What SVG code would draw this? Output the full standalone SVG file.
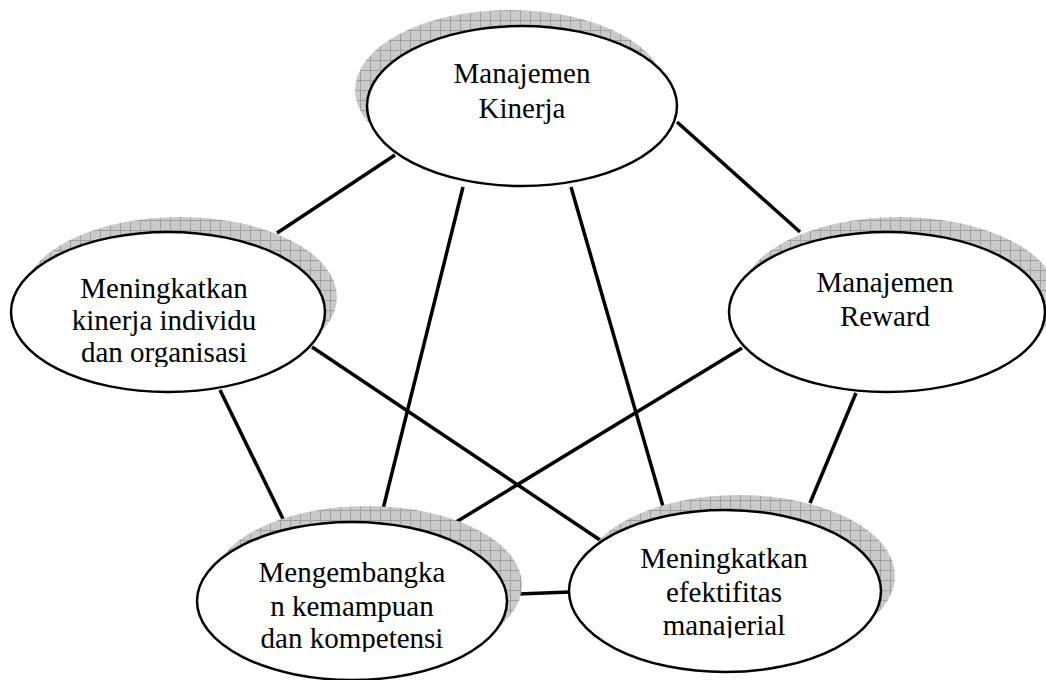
<svg xmlns="http://www.w3.org/2000/svg" width="1046" height="680" viewBox="0 0 1046 680">
<defs>
<pattern id="grid" width="10" height="10" patternUnits="userSpaceOnUse">
<rect width="10" height="10" fill="#cacaca"/>
<path d="M0 0.5H10M0.5 0V10" stroke="#a0a0a0" stroke-width="1" fill="none"/>
</pattern>
<clipPath id="clip-individu"><rect x="0" y="260" width="340" height="107"/></clipPath>
<clipPath id="clip-kompetensi"><rect x="190" y="545" width="330" height="107"/></clipPath>
<clipPath id="clip-manajerial"><rect x="560" y="530" width="330" height="108"/></clipPath>
</defs>
<style>
.shadow{fill:url(#grid);stroke:none}
.node{fill:#fff;stroke:#000;stroke-width:2.5}
text{font-family:'Liberation Serif','Times New Roman',Times,serif;font-size:29px;fill:#000;text-anchor:middle}
.conn line{stroke:#000;stroke-width:3.5;stroke-linecap:butt}
</style>
<rect width="1046" height="680" fill="#fff"/>
<g id="connectors" class="conn">
<line x1="395" y1="155" x2="277" y2="233"/>
<line x1="677" y1="122" x2="800" y2="232"/>
<line x1="463" y1="187" x2="383" y2="509"/>
<line x1="571" y1="187" x2="664" y2="510"/>
<line x1="220" y1="390" x2="285" y2="523"/>
<line x1="312" y1="347" x2="603" y2="542"/>
<line x1="742" y1="348" x2="438" y2="533"/>
<line x1="856" y1="393" x2="810" y2="503"/>
<line x1="518" y1="594" x2="570" y2="592"/>
</g>
<g id="node-kinerja">
<ellipse class="shadow" cx="510" cy="90" rx="155" ry="80"/>
<ellipse class="node" cx="522" cy="106" rx="155" ry="80"/>
<text x="522" y="83">Manajemen</text>
<text x="522" y="118">Kinerja</text>
</g>
<g id="node-individu">
<ellipse class="shadow" cx="180" cy="297" rx="157" ry="80"/>
<ellipse class="node" cx="168" cy="312" rx="157" ry="80"/>
<g clip-path="url(#clip-individu)">
<text x="164" y="298">Meningkatkan</text>
<text x="164" y="330">kinerja individu</text>
<text x="164" y="362">dan organisasi</text>
</g>
</g>
<g id="node-reward">
<ellipse class="shadow" cx="899" cy="297" rx="158" ry="80"/>
<ellipse class="node" cx="887" cy="312" rx="158" ry="80"/>
<text x="885" y="292">Manajemen</text>
<text x="885" y="326">Reward</text>
</g>
<g id="node-kompetensi">
<ellipse class="shadow" cx="367" cy="585" rx="155" ry="79"/>
<ellipse class="node" cx="352" cy="601" rx="155" ry="79"/>
<g clip-path="url(#clip-kompetensi)">
<text x="352" y="582">Mengembangka</text>
<text x="352" y="616">n kemampuan</text>
<text x="352" y="648">dan kompetensi</text>
</g>
</g>
<g id="node-manajerial">
<ellipse class="shadow" cx="739" cy="576" rx="156" ry="81"/>
<ellipse class="node" cx="725" cy="591" rx="156" ry="81"/>
<g clip-path="url(#clip-manajerial)">
<text x="724" y="568">Meningkatkan</text>
<text x="724" y="602">efektifitas</text>
<text x="724" y="635">manajerial</text>
</g>
</g>
</svg>
